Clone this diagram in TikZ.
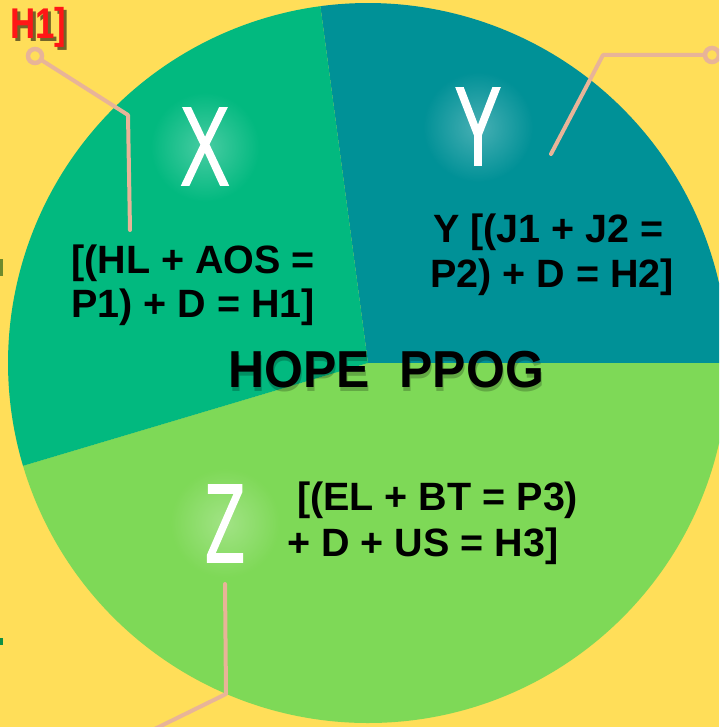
\documentclass[tikz,border=0pt]{standalone}
\usepackage{fontspec}
\setmainfont{Liberation Sans}
\newfontfamily\glyphfont[FakeBold=1.6]{Open Sans}
\usetikzlibrary{fadings}
\definecolor{bg}{HTML}{FFDE59}
\definecolor{colX}{HTML}{02B97F}
\definecolor{colY}{HTML}{009197}
\definecolor{colZ}{HTML}{7ED957}
\definecolor{peach}{HTML}{E8B498}
\definecolor{redtxt}{HTML}{FF1616}
\definecolor{olivebit}{HTML}{6E8A2C}
\definecolor{greenbit}{HTML}{0E8F45}
\tikzfading[name=glowfade, inner color=transparent!72, outer color=transparent!100]
\begin{document}
\begin{tikzpicture}[x=1pt,y=-1pt,
  lbl/.style={inner sep=0, anchor=base west, font=\fontsize{39.5}{44}\selectfont\bfseries},
  big/.style={inner sep=0, anchor=base, text=white, font=\fontsize{108}{108}\selectfont\glyphfont},
  conn/.style={draw=peach, line width=4, line cap=round, line join=round},
  ring/.style={circle, draw=peach, line width=4.5, fill=bg, minimum size=14, inner sep=0},
  glow/.style={white, path fading=glowfade}]
\fill[bg] (0,0) rectangle (719,727);
\useasboundingbox (0,0) rectangle (719,727);
\clip (0,0) rectangle (719,727);

% pie
\coordinate (C) at (368,363);
\fill[colY] (C) -- ++(-97.6:360) arc[start angle=-97.6, end angle=0, radius=360] -- cycle;
\fill[colZ] (C) -- ++(0:360) arc[start angle=0, end angle=163.4, radius=360] -- cycle;
\fill[colX] (C) -- ++(163.4:360) arc[start angle=163.4, end angle=262.4, radius=360] -- cycle;

% small cut-off bits at left edge
\fill[olivebit] (0,259) rectangle (2.5,276);
\fill[greenbit] (0,638) rectangle (3,645);

% glows
\fill[glow] (205,147) circle (55);
\fill[glow] (478,127) circle (55);
\fill[glow] (225,523) circle (55);

% big letters
\node[big] (bigX) at (205,185) {\scalebox{0.75}[1]{X}};
\node[big] (bigY) at (478,165) {\scalebox{0.72}[1]{Y}};
\node[big] (bigZ) at (225,562) {\scalebox{0.66}[1]{Z}};

% connectors
\node[ring] (xring) at (35,56) {};
\coordinate (x1) at (128,115);
\coordinate (x2) at (130,230);
\draw[conn] (xring) -- (x1) -- (x2);
\node[ring] (yring) at (712,55) {};
\coordinate (y1) at (603,55);
\coordinate (y2) at (551,154);
\draw[conn] (yring) -- (y1) -- (y2);
\coordinate (z0) at (225,584);
\coordinate (z1) at (226,694);
\coordinate (z2) at (120,746);
\draw[conn] (z0) -- (z1) -- (z2);

% H1] at top left
\node[inner sep=0, anchor=base west, text=black, opacity=0.55, font=\fontsize{43}{43}\selectfont\bfseries] (h1s) at (13,42) {\scalebox{0.81}[1]{H1]}};
\node[inner sep=0, anchor=base west, text=redtxt, font=\fontsize{43}{43}\selectfont\bfseries] (h1) at (10,39) {\scalebox{0.81}[1]{H1]}};

% text blocks
\node[lbl] (xa) at (71,273) {[(HL + AOS =};
\node[lbl] (xb) at (71,317) {P1) + D = H1]};
\node[lbl] (ya) at (433,242) {Y [(J1 + J2 =};
\node[lbl] (yb) at (430,287) {P2) + D = H2]};
\node[lbl] (za) at (297,510) {[(EL + BT = P3)};
\node[lbl] (zb) at (287,556) {+ D + US = H3]};

% title with soft shadow
\node[inner sep=0, anchor=base west, text=black, opacity=0.22, font=\fontsize{52}{52}\selectfont\bfseries] (titles) at (229,391) {\scalebox{0.96}[1]{HOPE\hspace{0.6em}PPOG}};
\node[inner sep=0, anchor=base west, text=black, font=\fontsize{52}{52}\selectfont\bfseries] (title) at (228,387) {\scalebox{0.96}[1]{HOPE\hspace{0.6em}PPOG}};
\end{tikzpicture}
\end{document}
